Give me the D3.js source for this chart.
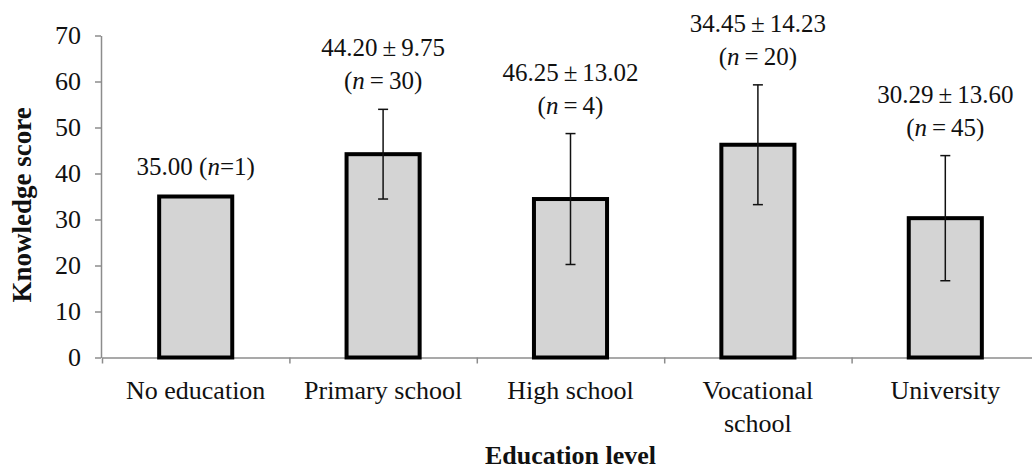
<!DOCTYPE html>
<html>
<head>
<meta charset="utf-8">
<script src="https://cdn.jsdelivr.net/npm/d3@7/dist/d3.min.js"></script>
<style>
  html, body { margin: 0; padding: 0; background: #fff; }
  svg { display: block; font-family: "Liberation Serif", "Times New Roman", serif; }
</style>
</head>
<body>
<svg id="chart" width="1032" height="471"></svg>
<script>
// Knowledge score by education level (mean ± SD)
const categories = ["No education", "Primary school", "High school", "Vocational school", "University"];
const categoryLines = [["No education"], ["Primary school"], ["High school"], ["Vocational", "school"], ["University"]];
const meanScores = [35.00, 44.20, 34.45, 46.25, 30.29];
const sdScores = [0, 9.75, 14.23, 13.02, 13.60];
const groupSizes = [1, 30, 20, 4, 45];
// Group whose statistics are printed above each bar, in the published layout
const annotationGroup = [0, 1, 3, 2, 4];
const yTicks = [0, 10, 20, 30, 40, 50, 60, 70];

const svg = d3.select("#chart");

const x = d3.scaleBand()
  .domain(categories)
  .range([102, 1039])
  .paddingInner(0.61)
  .paddingOuter(0.305);

const edges = d3.scaleLinear().domain([0, categories.length]).range(x.range());

const y = d3.scaleLinear().domain([0, 70]).range([357.5, 35.5]);

const axisColor = "#8c8c8c";

// Y axis
const yAxis = svg.append("g")
  .attr("transform", "translate(101,0)")
  .call(d3.axisLeft(y).tickValues(yTicks).tickSize(6).tickSizeOuter(0).tickPadding(14));
yAxis.select(".domain").attr("stroke", axisColor).attr("stroke-width", 1.5);
yAxis.selectAll(".tick line").attr("stroke", axisColor).attr("stroke-width", 1.5);
yAxis.selectAll(".tick text")
  .attr("fill", "#111")
  .style("font-size", "26px")
  .style("font-family", "Liberation Serif");

// X axis with ticks at category boundaries
const xAxis = svg.append("g")
  .attr("transform", "translate(0,357.5)")
  .call(d3.axisBottom(edges).tickValues(d3.range(categories.length + 1)).tickSize(6).tickSizeOuter(0).tickFormat(""));
xAxis.select(".domain").attr("stroke", axisColor).attr("stroke-width", 1.5);
xAxis.selectAll(".tick line").attr("stroke", axisColor).attr("stroke-width", 1.5);

// Category labels
const catLabels = svg.append("g");
categories.forEach((c, i) => {
  const t = catLabels.append("text")
    .attr("x", x(c) + x.bandwidth() / 2)
    .attr("y", 399)
    .attr("text-anchor", "middle")
    .attr("fill", "#111")
    .style("font-size", "26px");
  categoryLines[i].forEach((line, k) => {
    t.append("tspan")
      .attr("x", x(c) + x.bandwidth() / 2)
      .attr("dy", k === 0 ? 0 : 33)
      .text(line);
  });
});

// Axis titles
svg.append("text")
  .attr("x", (x.range()[0] + x.range()[1]) / 2)
  .attr("y", 464)
  .attr("text-anchor", "middle")
  .attr("fill", "#111")
  .style("font-size", "26px")
  .style("font-weight", "bold")
  .text("Education level");

svg.append("text")
  .attr("transform", "translate(31,205) rotate(-90)")
  .attr("text-anchor", "middle")
  .attr("fill", "#111")
  .style("font-size", "27px")
  .style("font-weight", "bold")
  .text("Knowledge score");

// Bars
svg.append("g").selectAll("rect")
  .data(categories)
  .join("rect")
  .attr("x", (d) => x(d))
  .attr("width", x.bandwidth())
  .attr("y", (d, i) => y(meanScores[i]))
  .attr("height", (d, i) => y(0) - y(meanScores[i]))
  .attr("fill", "#d4d4d4")
  .attr("stroke", "#000")
  .attr("stroke-width", 4);

// Error bars (± SD)
const err = svg.append("g").attr("stroke", "#111").attr("stroke-width", 1.5);
categories.forEach((c, i) => {
  if (sdScores[i] <= 0) return;
  const cx = x(c) + x.bandwidth() / 2;
  const y1 = y(meanScores[i] + sdScores[i]);
  const y0 = y(meanScores[i] - sdScores[i]);
  err.append("line").attr("x1", cx).attr("x2", cx).attr("y1", y1).attr("y2", y0);
  err.append("line").attr("x1", cx - 5).attr("x2", cx + 5).attr("y1", y1).attr("y2", y1);
  err.append("line").attr("x1", cx - 5).attr("x2", cx + 5).attr("y1", y0).attr("y2", y0);
});

// Annotations: mean ± SD and group size
const ann = svg.append("g").attr("fill", "#111").style("font-size", "25px");
categories.forEach((c, i) => {
  const g = annotationGroup[i];
  const cx = x(c) + x.bandwidth() / 2;
  const top = y(meanScores[i] + sdScores[i]);
  if (sdScores[g] <= 0) {
    const t = ann.append("text").attr("x", cx).attr("y", top - 22).attr("text-anchor", "middle");
    t.append("tspan").text(meanScores[g].toFixed(2) + " (");
    t.append("tspan").style("font-style", "italic").text("n");
    t.append("tspan").text("=" + groupSizes[g] + ")");
  } else {
    ann.append("text").attr("x", cx).attr("y", top - 53).attr("text-anchor", "middle")
      .text(meanScores[g].toFixed(2) + "\u2009\u00b1\u2009" + sdScores[g].toFixed(2));
    const t = ann.append("text").attr("x", cx).attr("y", top - 20).attr("text-anchor", "middle");
    t.append("tspan").text("(");
    t.append("tspan").style("font-style", "italic").text("n");
    t.append("tspan").text("\u2009=\u2009" + groupSizes[g] + ")");
  }
});
</script>
</body>
</html>
